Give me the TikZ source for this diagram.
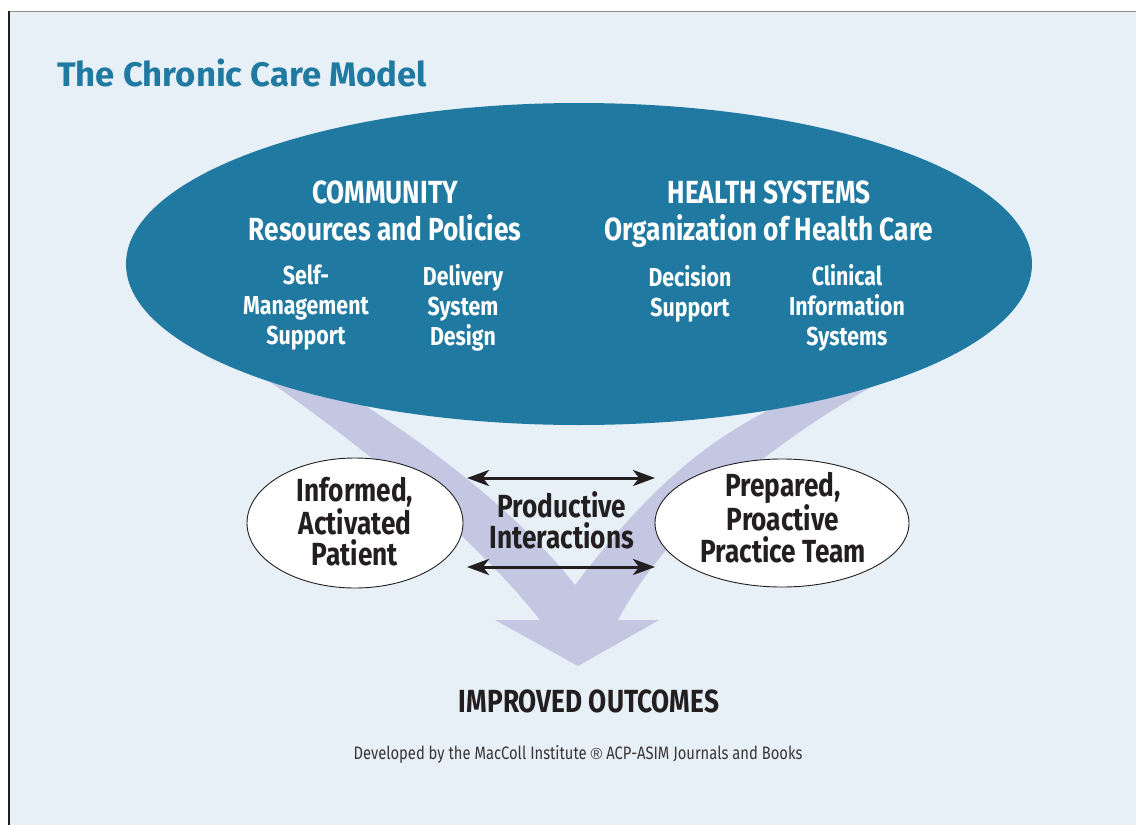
\documentclass[tikz,border=0pt]{standalone}
\usepackage{fontspec}
\setmainfont{Fira Sans}
\newfontfamily\cond[FakeStretch=0.82]{Fira Sans}
\newfontfamily\titlefont[FakeStretch=1.02]{Fira Sans}
\newfontfamily\regfont{Liberation Sans}
\usetikzlibrary{arrows.meta,shapes.geometric}
\definecolor{bg}{RGB}{231,240,247}
\definecolor{ccmblue}{RGB}{31,121,161}
\definecolor{band}{RGB}{195,199,226}
\definecolor{ink}{RGB}{35,31,32}
\tikzset{
  head/.style={font=\cond\bfseries\fontsize{32}{37}\selectfont, text=white, align=center, inner sep=0pt},
  sub/.style={font=\cond\bfseries\fontsize{26}{30}\selectfont, text=white, align=center, inner sep=0pt},
  dark/.style={font=\cond\bfseries\fontsize{32}{31.5}\selectfont, text=ink, align=center, inner sep=0pt},
  oval/.style={ellipse, draw=ink, line width=0.9pt, fill=white, inner sep=0pt},
  link/.style={draw=ink, line width=3pt, {Stealth[length=22pt,width=16pt,inset=6pt]}-{Stealth[length=22pt,width=16pt,inset=6pt]}}
}
\begin{document}
\begin{tikzpicture}[x=1pt,y=-1pt]
\useasboundingbox (0,0) rectangle (1136,825);
\fill[white] (0,0) rectangle (1136,825);
\fill[bg] (8,11) rectangle (1136,825);
\draw[black!45, line width=1.5pt] (8,11.5) -- (1136,11.5);
\draw[ink, line width=2pt] (8.5,11) -- (8.5,825);

% light purple converging arrow
\fill[band] (540,620) -- (495,620) -- (578,666) -- (659,620) -- (618,620)
  .. controls (660,540) and (750,455) .. (880,382) -- (790,400)
  .. controls (700,440) and (640,500) .. (575,585)
  .. controls (520,515) and (430,445) .. (340,390) -- (230,355)
  .. controls (330,420) and (470,530) .. (540,620) -- cycle;

% big system ellipse
\node[ellipse, fill=ccmblue, minimum width=906pt, minimum height=322pt, inner sep=0pt] (system) at (579,264) {};

\node[anchor=base west, inner sep=0pt, text=ccmblue, font=\titlefont\bfseries\fontsize{34}{36}\selectfont] (title) at (57,86) {The Chronic Care Model};

\node[head] (community) at (385,210.5) {COMMUNITY\\Resources and Policies};
\node[head] (health) at (769,214) {HEALTH SYSTEMS\\Organization of Health Care};
\node[sub] (selfman) at (306,308) {Self-\\Management\\Support};
\node[sub] (delivery) at (463,308) {Delivery\\System\\Design};
\node[sub] (decision) at (690,294) {Decision\\Support};
\node[sub] (clinical) at (847,308) {Clinical\\Information\\Systems};

% patient and team
\node[oval, minimum width=216pt, minimum height=130pt] (patient) at (355,523) {};
\node[oval, minimum width=254pt, minimum height=128pt] (team) at (782,523) {};
\node[dark] (patienttxt) at (355,522) {Informed,\\Activated\\Patient};
\node[dark] (teamtxt) at (783,517.5) {Prepared,\\Proactive\\Practice Team};
\node[dark] (interact) at (562,520.5) {Productive\\Interactions};

\coordinate (topL) at (467,478);
\coordinate (topR) at (655,478);
\coordinate (botL) at (467,567);
\coordinate (botR) at (655,567);
\draw[link] (topL) -- (topR);
\draw[link] (botL) -- (botR);

\node[anchor=base, inner sep=0pt, text=ink, font=\cond\bfseries\fontsize{32}{36}\selectfont] (outcomes) at (589,712) {IMPROVED OUTCOMES};
\node[anchor=base, inner sep=0pt, text=ink!90, font=\cond\fontsize{18}{22}\selectfont] (credit) at (578,759) {Developed by the MacColl Institute {\regfont\fontsize{16}{22}\selectfont ®} ACP-ASIM Journals and Books};
\end{tikzpicture}
\end{document}
